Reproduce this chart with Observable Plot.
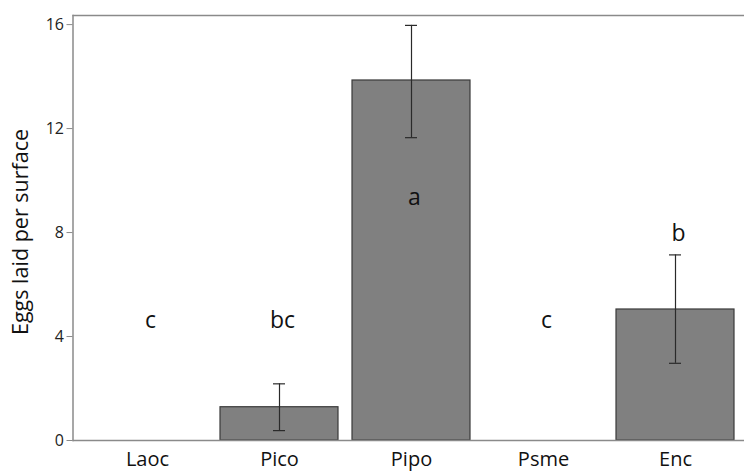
<!DOCTYPE html>
<html>
<head>
<meta charset="utf-8">
<script src="https://cdn.jsdelivr.net/npm/d3@7"></script>
<script src="https://cdn.jsdelivr.net/npm/@observablehq/plot@0.6"></script>
<style>
  html, body { margin: 0; padding: 0; background: #fff; }
  #chart svg { display: block; }
</style>
</head>
<body>
<div id="chart"></div>
<script>
const categories = ["Laoc", "Pico", "Pipo", "Psme", "Enc"];
const means = [0, 1.28, 13.85, 0, 5.04];
const lower = [null, 0.38, 11.65, null, 2.97];
const upper = [null, 2.18, 15.97, null, 7.14];
const letters = ["c", "bc", "a", "c", "b"];
const letterY = [4.62, 4.62, 9.35, 4.62, 7.96];
const yTicks = [0, 4, 8, 12, 16];
const yLabel = "Eggs laid per surface";

const data = categories.map((c, i) => ({
  cat: c, mean: means[i], lo: lower[i], hi: upper[i], letter: letters[i], ly: letterY[i]
}));
const errs = data.filter(d => d.lo != null);

const font = "'Open Sans', Lato, sans-serif";
const W = 744, H = 473;

const chart = Plot.plot({
  width: W,
  height: H,
  marginTop: 15,
  marginLeft: 72.5,
  marginRight: 0,
  marginBottom: 33,
  style: { fontFamily: font, background: "#fff", color: "#222" },
  x: { domain: categories, range: [72.5, 749.5], paddingInner: 0.106, paddingOuter: 0.117, label: null },
  y: { domain: [0, 16.35], label: null },
  marks: [
    Plot.barY(data, { x: "cat", y: "mean", fill: "#808080", stroke: "#3a3a3a", strokeWidth: 1.2 }),
    Plot.ruleY([0], { stroke: "#8a8a8a", strokeWidth: 1.5 }),
    Plot.ruleY([16.35], { stroke: "#8a8a8a", strokeWidth: 1.5 }),
    Plot.frame({ anchor: "left", stroke: "#8a8a8a", strokeWidth: 1.5 }),
    Plot.ruleX(errs, { x: "cat", y1: "lo", y2: "hi", stroke: "#2a2a2a", strokeWidth: 1.2 }),
    Plot.tickY(errs, { x: "cat", y: "lo", stroke: "#2a2a2a", strokeWidth: 1.2, insetLeft: 53, insetRight: 53 }),
    Plot.tickY(errs, { x: "cat", y: "hi", stroke: "#2a2a2a", strokeWidth: 1.2, insetLeft: 53, insetRight: 53 }),
    Plot.text(data, { x: "cat", y: "ly", text: "letter", fontSize: 23, fill: "#111", lineAnchor: "middle", dx: 3 }),
    Plot.axisY({ ticks: yTicks, tickSize: 6, tickPadding: 3, fontSize: 16, stroke: "#8a8a8a", fill: "#222", label: null }),
    Plot.axisX({ tickSize: 0, tickPadding: 11, fontSize: 20, fill: "#111", label: null }),
    Plot.text([yLabel], { frameAnchor: "left", textAnchor: "middle", lineAnchor: "middle", rotate: -90, dx: -52, dy: 4, fontSize: 21.5, fill: "#111" })
  ]
});
document.getElementById("chart").appendChild(chart);
</script>
</body>
</html>
